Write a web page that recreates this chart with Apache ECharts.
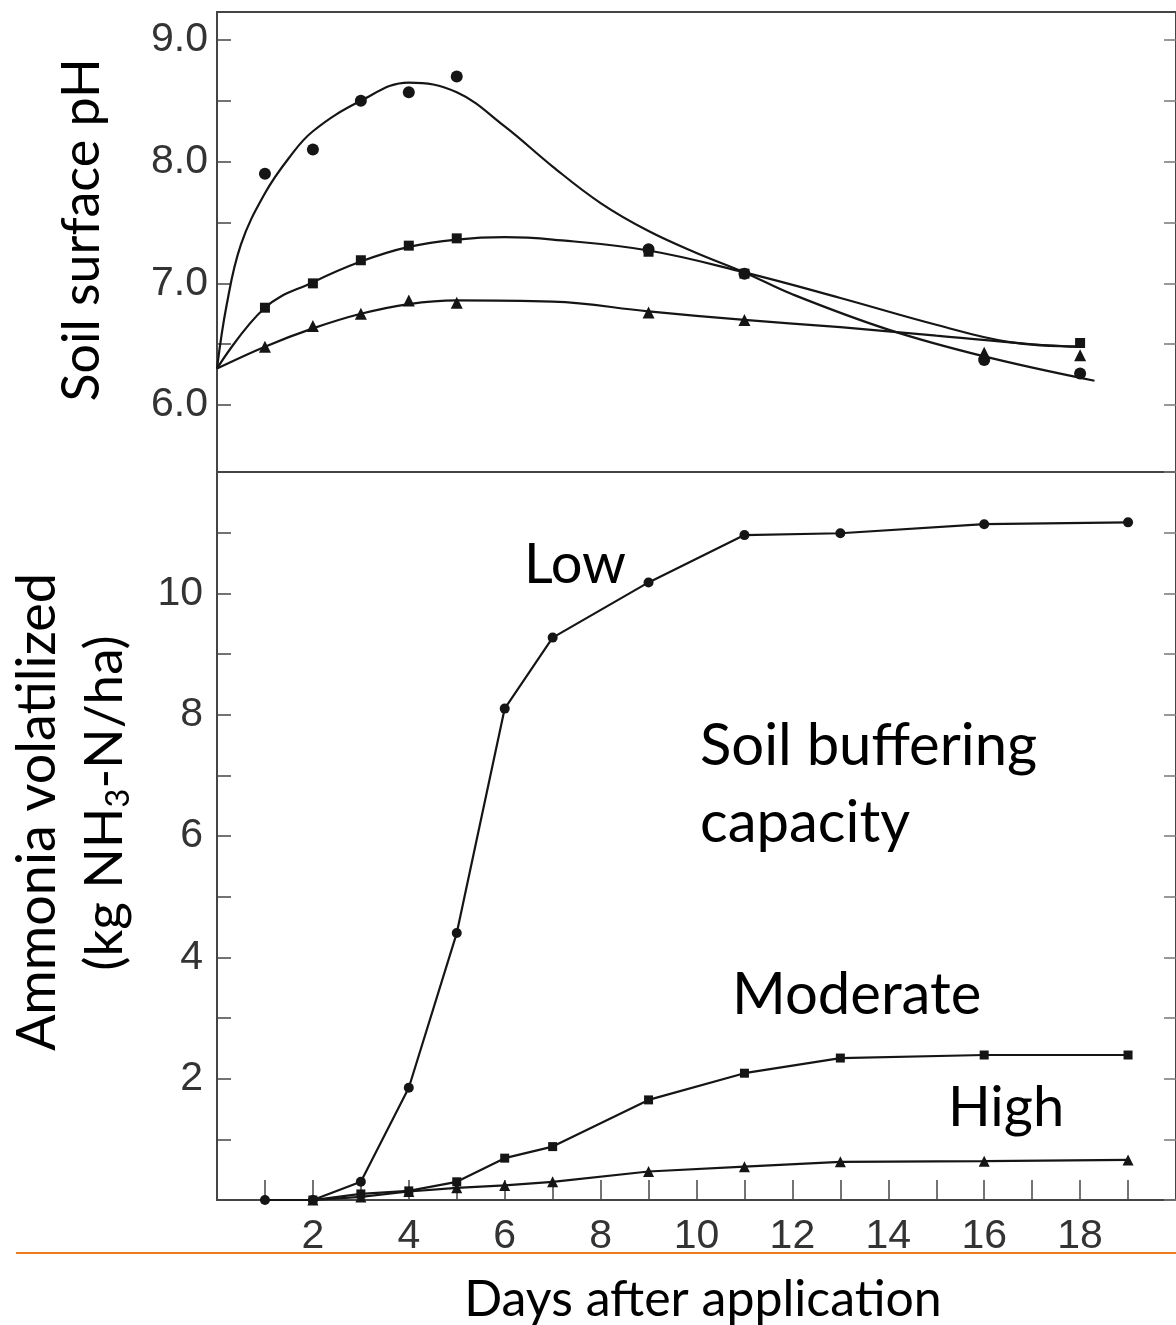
<!DOCTYPE html>
<html>
<head>
<meta charset="utf-8">
<script src="https://cdn.jsdelivr.net/npm/echarts@6/dist/echarts.min.js"></script>
<style>
html, body { margin: 0; padding: 0; background: #fff; }
#chart { width: 1176px; height: 1325px; }
</style>
</head>
<body>
<div id="chart"></div>
<script>
// measured points, top panel (soil surface pH)
var phDays = [1, 2, 3, 4, 5, 9, 11, 16, 18];
var phLow = [7.9, 8.1, 8.5, 8.57, 8.7, 7.28, 7.08, 6.37, 6.26];
var phModDays = [1, 2, 3, 4, 5, 9, 11, 18];
var phMod = [6.8, 7.0, 7.19, 7.31, 7.37, 7.26, 7.08, 6.51];
var phHigh = [6.48, 6.65, 6.75, 6.86, 6.84, 6.76, 6.7, 6.43, 6.41];

// fitted curves
var curveLowDays = [0, 0.2, 0.5, 1, 1.5, 2, 3, 4, 5, 6, 7, 8, 9, 10, 11, 12, 14, 16, 18.3];
var curveLow = [6.3, 6.82, 7.32, 7.74, 8.03, 8.25, 8.5, 8.65, 8.57, 8.29, 7.96, 7.66, 7.43, 7.25, 7.09, 6.91, 6.62, 6.4, 6.2];
var curveModDays = [0, 1, 2, 3, 4, 5, 6, 7, 9, 11, 13, 15, 16.5, 18];
var curveMod = [6.3, 6.8, 7.01, 7.18, 7.3, 7.36, 7.38, 7.36, 7.27, 7.09, 6.88, 6.66, 6.52, 6.48];
var curveHighDays = [0, 1, 2, 3, 4, 5, 7, 9, 11, 13, 15, 17, 18];
var curveHigh = [6.3, 6.48, 6.63, 6.75, 6.83, 6.86, 6.85, 6.77, 6.7, 6.64, 6.57, 6.5, 6.48];

// bottom panel (ammonia volatilized)
var nh3LowDays = [1, 2, 3, 4, 5, 6, 7, 9, 11, 13, 16, 19];
var nh3Low = [0, 0, 0.3, 1.85, 4.4, 8.1, 9.27, 10.18, 10.96, 10.99, 11.14, 11.17];
var nh3Days = [2, 3, 4, 5, 6, 7, 9, 11, 13, 16, 19];
var nh3Mod = [0, 0.1, 0.15, 0.3, 0.69, 0.88, 1.65, 2.09, 2.34, 2.39, 2.39];
var nh3High = [0, 0.05, 0.14, 0.2, 0.24, 0.3, 0.47, 0.55, 0.63, 0.64, 0.66];

var phTicks = [6, 6.5, 7, 7.5, 8, 8.5, 9];
var phLabels = [6, 7, 8, 9];
var dayTicks = [1, 2, 3, 4, 5, 6, 7, 8, 9, 10, 11, 12, 13, 14, 15, 16, 17, 18, 19];
var dayLabels = [2, 4, 6, 8, 10, 12, 14, 16, 18];

function pairs(xs, ys) {
    return xs.map(function (x, i) { return [x, ys[i]]; });
}

var ink = '#151515';
var frame = '#454545';
var tickFont = { fontFamily: 'Liberation Sans', fontSize: 41, color: '#333' };
var titleFont = 'Lato';

function curve(name, xs, ys) {
    return {
        name: name, type: 'line', xAxisIndex: 0, yAxisIndex: 0,
        data: pairs(xs, ys), smooth: 0.4, showSymbol: false, silent: true,
        lineStyle: { color: ink, width: 2.2 }
    };
}
function dots(name, xs, ys, sym, size) {
    return {
        name: name, type: 'scatter', xAxisIndex: 0, yAxisIndex: 0,
        data: pairs(xs, ys), symbol: sym, symbolSize: size,
        itemStyle: { color: ink, opacity: 1 }
    };
}
function nh3(name, xs, ys, sym, size) {
    return {
        name: name, type: 'line', xAxisIndex: 1, yAxisIndex: 2,
        data: pairs(xs, ys), symbol: sym, symbolSize: size, showAllSymbol: true,
        lineStyle: { color: ink, width: 2.2 }, itemStyle: { color: ink, opacity: 1 }
    };
}

var myChart = echarts.init(document.getElementById('chart'));
myChart.setOption({
    backgroundColor: '#ffffff',
    animation: false,
    grid: [
        { left: 217, top: 12, width: 959, height: 460, show: true, borderColor: frame, borderWidth: 2 },
        { left: 217, top: 472, width: 959, height: 728 }
    ],
    xAxis: [
        {
            gridIndex: 0, type: 'value', min: 0, max: 20,
            axisLine: { show: false }, axisTick: { show: false },
            axisLabel: { show: false }, splitLine: { show: false }
        },
        {
            gridIndex: 1, type: 'value', min: 0, max: 20, interval: 1,
            axisLine: { show: true, onZero: false, lineStyle: { color: frame, width: 2 } },
            axisTick: { inside: true, length: 20, customValues: dayTicks, lineStyle: { color: frame, width: 1.5 } },
            axisLabel: Object.assign({ margin: 16, customValues: dayLabels }, tickFont),
            splitLine: { show: false }
        }
    ],
    yAxis: [
        {
            gridIndex: 0, type: 'value', min: 5.45, max: 9.23, position: 'left',
            axisLine: { show: false },
            axisTick: { inside: true, length: 14, customValues: phTicks, lineStyle: { color: frame, width: 1.5 } },
            axisLabel: Object.assign({ margin: 9, customValues: phLabels, formatter: function (v) { return v.toFixed(1); } }, tickFont),
            splitLine: { show: false }
        },
        {
            gridIndex: 0, type: 'value', min: 5.45, max: 9.23, position: 'right',
            axisLine: { show: false },
            axisTick: { inside: true, length: 12, customValues: phTicks, lineStyle: { color: '#777', width: 1.5 } },
            axisLabel: { show: false }, splitLine: { show: false }
        },
        {
            gridIndex: 1, type: 'value', min: 0, max: 12, interval: 1, position: 'left',
            axisLine: { show: true, lineStyle: { color: frame, width: 2 } },
            axisTick: { inside: true, length: 14, lineStyle: { color: frame, width: 1.5 } },
            axisLabel: Object.assign({
                margin: 14,
                formatter: function (v) { return (v % 2 === 0 && v > 0 && v < 12) ? String(v) : ''; }
            }, tickFont),
            splitLine: { show: false }
        },
        {
            gridIndex: 1, type: 'value', min: 0, max: 12, interval: 1, position: 'right',
            axisLine: { show: true, lineStyle: { color: frame, width: 2 } },
            axisTick: { inside: true, length: 12, lineStyle: { color: '#777', width: 1.5 } },
            axisLabel: { show: false }, splitLine: { show: false }
        }
    ],
    series: [
        curve('Low fit', curveLowDays, curveLow),
        curve('Moderate fit', curveModDays, curveMod),
        curve('High fit', curveHighDays, curveHigh),
        dots('Low', phDays, phLow, 'circle', 12),
        dots('Moderate', phModDays, phMod, 'rect', 10),
        dots('High', phDays, phHigh, 'triangle', 12),
        nh3('Low', nh3LowDays, nh3Low, 'circle', 10),
        nh3('Moderate', nh3Days, nh3Mod, 'rect', 9),
        nh3('High', nh3Days, nh3High, 'triangle', 11)
    ],
    graphic: [
        { type: 'text', x: 82, y: 230, rotation: Math.PI / 2,
          style: { text: 'Soil surface pH', fontFamily: titleFont, fontSize: 52, fill: '#000', align: 'center', verticalAlign: 'middle' } },
        { type: 'text', x: 38, y: 812, rotation: Math.PI / 2,
          style: { text: 'Ammonia volatilized', fontFamily: titleFont, fontSize: 54, fill: '#000', align: 'center', verticalAlign: 'middle' } },
        { type: 'text', x: 105, y: 803, rotation: Math.PI / 2,
          style: {
              text: '{a|(kg NH}{s|3}{a|-N/ha)}', align: 'center', verticalAlign: 'middle',
              rich: {
                  a: { fontFamily: titleFont, fontSize: 53, fill: '#000', lineHeight: 60, verticalAlign: 'middle' },
                  s: { fontFamily: titleFont, fontSize: 33, fill: '#000', lineHeight: 60, verticalAlign: 'bottom' }
              }
          } },
        { type: 'text', x: 703, y: 1300,
          style: { text: 'Days after application', fontFamily: titleFont, fontSize: 50, fill: '#000', align: 'center', verticalAlign: 'middle' } },
        { type: 'text', x: 524, y: 565,
          style: { text: 'Low', fontFamily: titleFont, fontSize: 56, fill: '#000', align: 'left', verticalAlign: 'middle' } },
        { type: 'text', x: 700, y: 746,
          style: { text: 'Soil buffering', fontFamily: titleFont, fontSize: 58, fill: '#000', align: 'left', verticalAlign: 'middle' } },
        { type: 'text', x: 700, y: 823,
          style: { text: 'capacity', fontFamily: titleFont, fontSize: 58, fill: '#000', align: 'left', verticalAlign: 'middle' } },
        { type: 'text', x: 732, y: 995,
          style: { text: 'Moderate', fontFamily: titleFont, fontSize: 58, fill: '#000', align: 'left', verticalAlign: 'middle' } },
        { type: 'text', x: 948, y: 1108,
          style: { text: 'High', fontFamily: titleFont, fontSize: 56, fill: '#000', align: 'left', verticalAlign: 'middle' } },
        { type: 'line', shape: { x1: 16, y1: 1253, x2: 1176, y2: 1253 },
          style: { stroke: '#f07a1c', lineWidth: 2 } }
    ]
});
</script>
</body>
</html>
